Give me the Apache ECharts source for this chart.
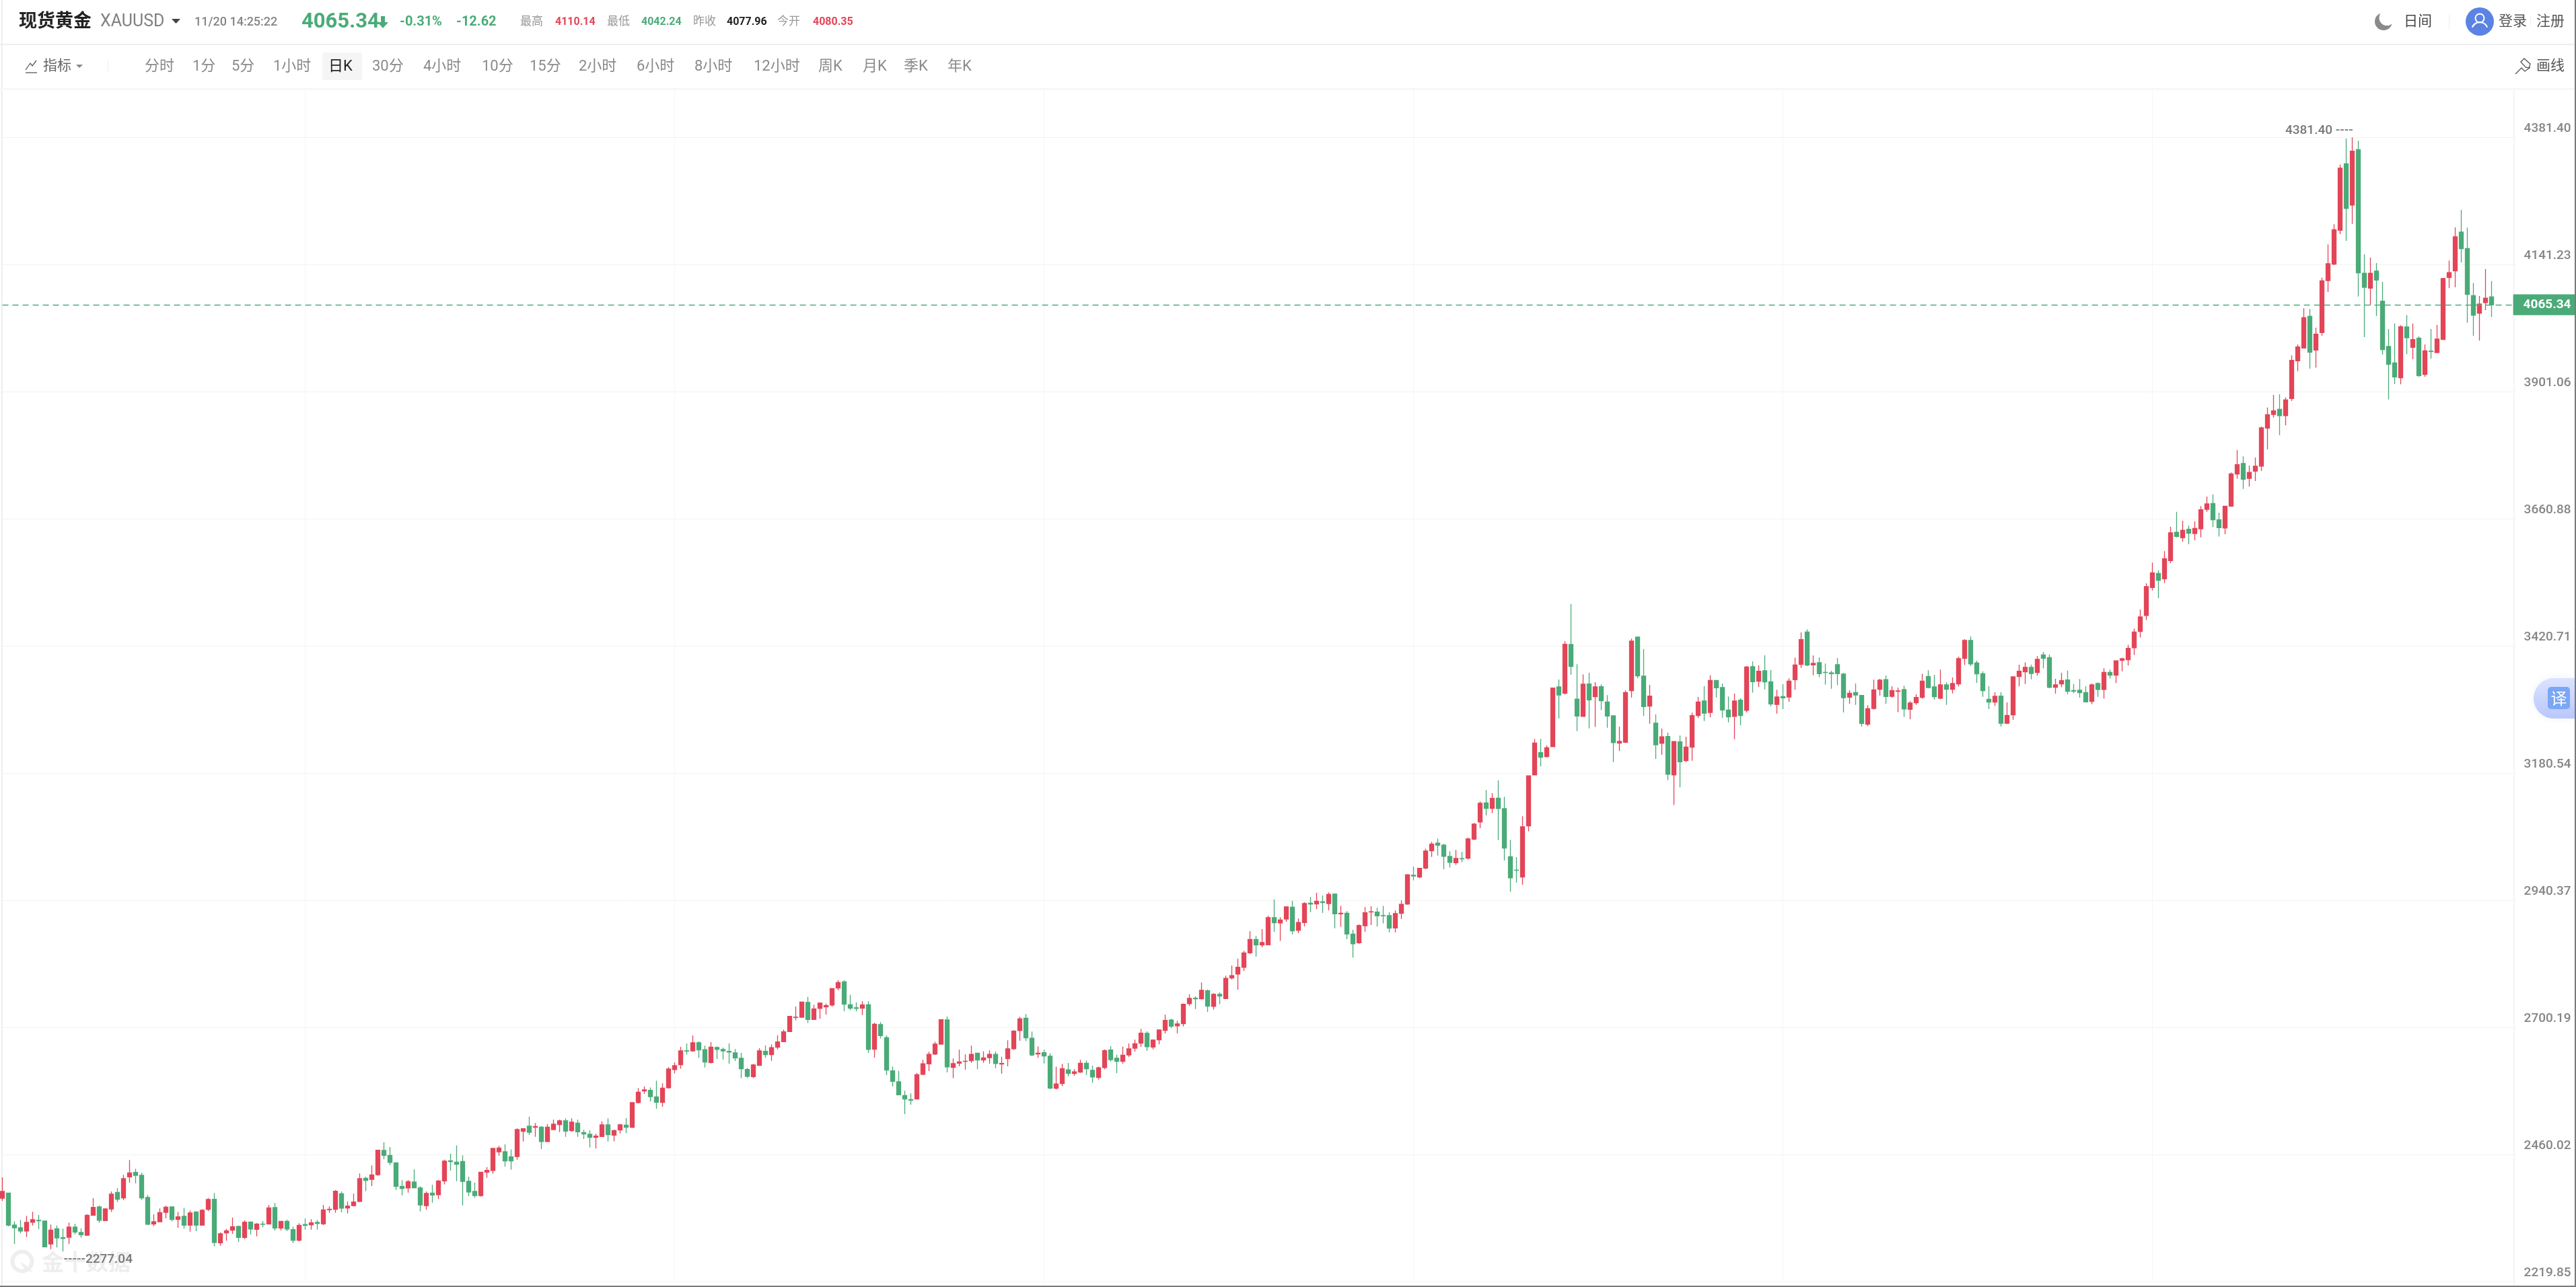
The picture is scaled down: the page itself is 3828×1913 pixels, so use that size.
<!DOCTYPE html>
<html lang="zh">
<head>
<meta charset="utf-8">
<title>现货黄金 XAUUSD</title>
<style>html,body{margin:0;padding:0;background:#fff}#c{width:3828px;height:1913px}</style>
<script src="https://cdn.jsdelivr.net/npm/echarts@6/dist/echarts.min.js"></script>
</head>
<body>
<div id="c"></div>
<script>
const priceTicks=[2219.85,2460.02,2700.19,2940.37,3180.54,3420.71,3660.88,3901.06,4141.23,4381.40];
const lastPrice=4065.34;
const periodLabels=['分时','1分','5分','1小时','日K','30分','4小时','10分','15分','2小时','6小时','8小时','12小时','周K','月K','季K','年K'];
const quoteStats=[['最高','4110.14','#e34558'],['最低','4042.24','#4aab78'],['昨收','4077.96','#222222'],['今开','4080.35','#e34558']];

// R = close above open, G = close below open; ten days per entry
const dayColours=[
'RGGGRRGGRG','GRGGRRGRRG','RRGGGRRRGR','GRGRRGRRRG','RGRGRGRGGR','GRGRRRGRRR','GRRGGGGRGG','RGRRGGGGGR',
'RRRGGRRGRG','RRRGRGGGRR','GRRGRRRGGR','RRRGRGGRGG','GGGGRRGRRR','RRRGRRRRRG','GGRGRGGGGG',
'GRRRRRGRRR','RGRRGRRRRG','GRGGRRGRRG','GRRGGRRRRG','RRRGRRRGRG','RGRRRRRGRR','GRRGRRGRGR','GRGGRRRGGG','RRRGRRRGGG',
'RGRRRGRGGG','GRRRGRRGRG','GRGRGGGRRR','GGRGRGRGRR','RGRGGGRGRG','RGGRGRRRGR','GGGGGRGGRR','RGRRGRRRGG','RGRRRGGGGR',
'GRRRRGRGGR','RGGGGRGRGR','RRRRRRGRRG','RGRRRGGRRR','GRRRRRGRRR','RGRRRRRGRG','GRGGGGRGRG','RGRRRRGGGR','RG'
].join('');

const highs=[
2417.2,2387.5,2334.2,2336.8,2344.4,2352,2346.1,2335.5,2327.9,2326.1,
2320.2,2331.7,2329.5,2320.6,2347.3,2377.8,2363.8,2359.2,2390.5,2396.9,
2421.9,2449.8,2433.3,2425.7,2383.8,2347.3,2358.3,2363.8,2362.6,2351.6,
2359.6,2354.5,2352.4,2357,2378.2,2387.5,2313.4,2319.8,2341.4,2326.1,
2336.3,2333.3,2330.8,2334.6,2365.1,2368.5,2334.6,2337.2,2324,2330.4,
2339.3,2338,2336.8,2365.1,2362.6,2393.1,2390.5,2371.5,2386.3,2424.4,
2418.1,2439.7,2469.3,2483.3,2474.4,2445.2,2411.7,2412.1,2432,2400.3,
2390.5,2403.2,2412.5,2450.7,2462.1,2477.4,2458.7,2418.5,2407,2427.8,
2436.7,2472.7,2476.6,2479.5,2469.8,2509.5,2509.9,2531.6,2519.7,2514.2,
2518,2526.1,2526.1,2528.6,2528.6,2526.1,2507,2505.7,2499.4,2523.1,
2528.6,2507,2518.4,2529,2559.6,2585.8,2589.2,2586.7,2599.8,2594.7,
2625.2,2634.1,2663.8,2670.1,2685,2673.9,2665.9,2672.7,2664.2,2662.1,
2670.1,2659.5,2652.3,2624,2631.6,2661.2,2666.3,2668.4,2685.4,2696.4,
2722.2,2740,2748.9,2758.2,2743,2747.6,2745.5,2774.3,2789.6,2789.6,
2762,2747.6,2749.8,2749.8,2709.1,2710.4,2685.4,2626.5,2618.4,2580.7,
2575.7,2614.6,2639.2,2654.4,2673.1,2715.9,2720.9,2641.7,2658.2,2649.4,
2665.9,2652.3,2655.2,2656.9,2654.8,2645.1,2676.1,2695.1,2720.5,2725.7,
2692.6,2664.3,2658.2,2651.5,2626.1,2631.6,2633.2,2621.4,2639.2,2637.9,
2628.2,2626.5,2659.1,2665,2648.9,2663.9,2670.1,2677.4,2697.7,2693,
2677.8,2696.8,2724.3,2716.7,2712.9,2745.5,2762.8,2759,2785.3,2772.2,
2765,2766.7,2798.1,2817.1,2830.2,2845,2882.3,2873,2886.1,2911.1,
2942,2908.6,2929.3,2939.5,2906,2936.9,2946.7,2954.8,2949.7,2955.7,
2953.5,2929.8,2920,2884.9,2895,2927.6,2929.3,2926.4,2929.8,2917.9,
2921.3,2940.4,2989.5,3004.4,3001.8,3037.8,3050.9,3056.9,3047.1,3033.1,
3035.7,3031.9,3059,3086.5,3127.1,3148.8,3142.8,3167,3136,3054.7,
3022,3099.2,3175.5,3245.3,3245.3,3233,3341.9,3357.6,3430,3499.9,
3386.4,3367,3370.3,3352.5,3348.3,3327.9,3289.9,3268.6,3336.8,3434.7,
3437.6,3414.9,3347.4,3291.9,3264.8,3257.2,3240.3,3251.7,3249.6,3294.9,
3324.5,3344.9,3365.6,3355.9,3349.9,3325.4,3330.9,3322.4,3383,3391.5,
3384.3,3403.3,3375.4,3338.1,3348.7,3359.7,3398.7,3446.5,3452.1,3402.9,
3399.5,3387.7,3374.1,3397.9,3369.9,3337.2,3349.9,3327.9,3308.9,3357.2,
3358.8,3364.8,3344.8,3342.3,3345.7,3316.5,3329.6,3368.2,3374.9,3366.5,
3376.2,3352.1,3361.4,3400.8,3433.8,3438.9,3393.2,3373.2,3344.9,3333.4,
3333.4,3314.4,3363.5,3385.5,3390.1,3385.5,3401.7,3409.7,3405,3358.9,
3370.3,3374.5,3348.7,3358.4,3344.9,3350,3352.1,3378.7,3376.2,3392.8,
3398.7,3422.9,3453.7,3489.8,3539.3,3578.3,3563.8,3599.9,3646,3674.4,
3657.5,3648.2,3656.2,3685,3703.3,3707,3672.8,3685.7,3748.6,3790.9,
3779,3761.7,3776.9,3835.3,3871.3,3895.1,3896.4,3890.2,3969.6,3990.4,
4058.6,4057.3,4022.2,4116.6,4179.4,4217.4,4330.1,4379.3,4381.40,4375,
4160.7,4154.3,4144.2,4108.6,4019.7,4029.8,4026.8,4045.9,4029.8,4005.7,
3990.4,4019.7,4027.2,4115.8,4148.9,4211.5,4244.6,4211.1,4106.5,4081.9,
4132.7,4110.14
];
const lows=[
2372.7,2324.9,2291.4,2311.3,2304.5,2326.1,2319.8,2285.1,2281.6,2284.6,
2277.04,2291.4,2309.6,2303.2,2306.6,2344.8,2331.7,2334.6,2351.6,2370.6,
2373.9,2407.5,2405.8,2374.4,2327.4,2324.9,2332.5,2339.7,2334.2,2321.9,
2320.6,2314.7,2315.6,2326.1,2353.3,2286.8,2288,2297.3,2310.5,2295.2,
2300.7,2309.2,2305.8,2323.2,2327.9,2316.8,2316.8,2315.6,2293.1,2296.5,
2318.5,2318.5,2318.5,2327,2350.3,2350.3,2350.7,2349,2362.2,2370.6,
2391,2400.7,2420.2,2451.5,2440.5,2393.5,2383.3,2388.4,2396.5,2352.8,
2355.8,2369.3,2376.1,2403.7,2429.9,2410,2364.3,2382,2378.6,2380.8,
2416.4,2424,2458.2,2437.5,2431.6,2450.7,2484.9,2497.3,2493.6,2470.6,
2483.8,2506.6,2502.8,2493.6,2503.2,2493.6,2489.6,2473.6,2471.9,2493.6,
2484.9,2485.3,2500.2,2500.7,2510.4,2556.6,2574.8,2560.8,2546.9,2550.7,
2584.6,2613.4,2622.3,2649,2654.4,2642.6,2624.8,2632.4,2640.9,2639.6,
2631.6,2637.1,2604.5,2604.9,2604.5,2627.8,2642.6,2637.5,2658.7,2672.7,
2691.7,2713.7,2718.4,2708.7,2715,2716.7,2724.3,2739.6,2770.9,2731.1,
2732.8,2730.3,2723.9,2652.3,2643,2679.9,2610.4,2589.2,2572.7,2536.7,
2554.5,2564.2,2610,2618,2648.5,2668,2615.5,2604.5,2626.9,2620.6,
2633.2,2621.4,2633.2,2632,2623.1,2612.9,2626.9,2657.8,2675.2,2674.8,
2645.9,2642.9,2632.4,2583.8,2582.9,2589.3,2607.9,2609.1,2614.6,2610.8,
2595.6,2601.9,2621.4,2636.2,2614.2,2632,2644.7,2654.9,2663.8,2656.2,
2659.1,2668.5,2689.2,2698.9,2689.2,2702.3,2741.3,2735.3,2753.1,2729.8,
2734,2744.2,2754.4,2790.9,2771.7,2806.9,2839.1,2834,2851.8,2855.6,
2881.1,2863.7,2900,2876.4,2878.6,2891.3,2917.9,2923.8,2916.6,2921.5,
2887.8,2890.4,2867.1,2832.3,2858.2,2881.1,2893.8,2890.8,2896.8,2880.2,
2879.8,2905.2,2932.3,2978.1,2981.9,2999.3,3022.5,3025,2999.3,3002.3,
3007.3,3012.4,3017.5,3054.3,3076.8,3100.4,3105.1,3054.3,3015.8,2956.5,
2974.2,2970,3070.8,3176.3,3193.2,3210.1,3229.7,3283.9,3328.8,3366.5,
3260.1,3287.3,3265.2,3267.8,3299.6,3266.5,3201.7,3222.4,3237.7,3323.3,
3359.7,3288.6,3274.1,3207.6,3215.2,3167.4,3120.4,3153.9,3201.7,3204.2,
3285.2,3279.2,3286.4,3323.7,3285.2,3276.6,3244.9,3271.2,3295.3,3332.6,
3343.2,3338.9,3306.8,3293.2,3301.7,3315.2,3338.1,3379.6,3382.6,3365.6,
3361.8,3347.8,3340.2,3346.6,3295.3,3311.8,3309.7,3268.6,3269.5,3300.8,
3327.1,3311.4,3323.2,3295.8,3286.9,3282.6,3309.7,3321.2,3340.7,3319.4,
3319.9,3309.7,3331.3,3344.5,3384.7,3382.8,3351.2,3324.9,3301.7,3307.6,
3268.6,3273.2,3281.4,3344.5,3349.1,3358,3364.8,3378.5,3341.1,3330.9,
3342.8,3329.6,3331.7,3323.2,3314.8,3310.9,3324.9,3321.2,3359.3,3350.8,
3373.2,3383.8,3403.8,3436.8,3469.8,3525.7,3511.2,3539.7,3577.4,3626.1,
3618,3613,3620.7,3626.1,3674.4,3645.6,3627.5,3632,3683.8,3736.7,
3717.6,3721.9,3732.4,3751.5,3792.1,3852.3,3819.2,3837.5,3883.6,3940,
3982.8,3944.7,3946.4,4006.9,4089.5,4140.4,4198.8,4186.1,4218.3,4081,
4004.4,4065.4,4044.2,3971.3,3886.6,3915.4,3915,3971.8,3962.5,3928.6,
3929.4,3963.7,3974.2,3999.3,4096.7,4098.4,4145,4031.5,4006.5,3997.6,
4055.2,4042.24
];
const bodyTops=[
2390.5,2387.5,2327,2321.9,2332.1,2337.2,2335.9,2334.6,2317.7,2320.2,
2303.2,2323.2,2323.2,2313,2345.6,2360.4,2361.3,2357.5,2385.4,2388.8,
2414.7,2425.7,2426.5,2421,2379.1,2333.3,2350.7,2360.9,2361.3,2342.7,
2343.5,2349.9,2352,2354.9,2375.3,2375.7,2310.5,2316.4,2324,2324.4,
2332.5,2332.9,2329.1,2329.1,2359.6,2360,2334.2,2334.2,2318.5,2326.6,
2327.9,2331.2,2332.1,2355.8,2357,2391,2386.3,2363,2370.6,2414.7,
2415.5,2421.9,2468.5,2468,2458.7,2444.7,2400.3,2409.2,2408.3,2397.3,
2386.7,2387.5,2410.4,2447.7,2448.6,2446,2447.3,2409.6,2390.5,2427,
2430.4,2471.9,2472.7,2465.5,2456.2,2507.4,2509.1,2513.8,2513.4,2512.1,
2512.1,2517.6,2524,2524,2521.4,2519.7,2501.9,2498.5,2495.1,2516.3,
2516.3,2505.7,2516.3,2515.9,2558.3,2578.2,2582.5,2581.6,2569.3,2585.8,
2621.8,2628.2,2656.1,2656.1,2671.4,2671.4,2658.3,2663.3,2662.5,2658.7,
2655.3,2652.3,2642.2,2621,2629.5,2656.1,2655.3,2662.1,2673,2692.2,
2721.3,2719.6,2748.5,2747.6,2735.3,2746.4,2741.7,2773.9,2785.3,2786.6,
2743.4,2737.5,2743,2743.4,2706.5,2705.7,2681.1,2618.4,2597.7,2571.8,
2564.2,2611.2,2631.6,2649.4,2668.8,2715,2714.6,2632,2635.4,2636.6,
2649.4,2651.9,2642.9,2649.4,2649.4,2632.4,2660,2693.4,2716.7,2718,
2679.9,2651.9,2652.7,2645.9,2593.5,2622.7,2620.2,2616.4,2632.8,2632.8,
2619.3,2624,2656.6,2657.8,2642.1,2648.1,2660,2669.7,2689.6,2689.2,
2676.5,2695.6,2713.7,2714.2,2707,2744.2,2755.2,2755.7,2770.5,2769.7,
2762.9,2762.9,2793,2798.1,2814.1,2841.2,2866.6,2866.6,2860.7,2907.8,
2907.8,2903.5,2928,2927.6,2898.5,2934.4,2935.3,2938.7,2937.8,2951.8,
2952.2,2916.2,2916.2,2876.8,2892.9,2917,2919.1,2918.3,2911.5,2911.5,
2915.3,2932.8,2988.7,2987.9,3001,3033.5,3046.7,3048.4,3044.6,3023.4,
3019.6,3019.2,3056.4,3084.4,3123.7,3124.6,3133.1,3133.5,3113.6,3022.9,
2997.5,3079.3,3175.5,3237.7,3219.5,3228.8,3341.5,3343.6,3424.1,3423.7,
3320.4,3348.7,3349.1,3343.6,3344,3315.2,3289,3240.7,3333,3430,
3437.6,3363.9,3326.2,3275,3249.2,3250,3240.3,3239.8,3230,3289.4,
3315.2,3316.9,3355.9,3355.9,3342.3,3300,3316.9,3318.6,3381.3,3381.8,
3373.3,3374.1,3353.3,3324.5,3325.4,3354.6,3385.1,3433,3447.4,3388.1,
3389.4,3371.1,3369.9,3385.5,3367.8,3331.7,3333,3327.5,3302.5,3338.1,
3356.3,3357.2,3336.8,3336,3338.6,3313.1,3323.7,3354.6,3363.5,3343.6,
3347.4,3347.4,3350,3397,3431.3,3431.3,3388.9,3368.6,3320.3,3325.8,
3326.2,3289.8,3362.7,3373.2,3380.5,3380.5,3395.7,3404.2,3399.1,3347.4,
3355.5,3356.7,3336.8,3337.2,3333,3347.4,3350,3371.1,3371.1,3392.8,
3396.6,3416.5,3447.4,3475.8,3532.9,3559.2,3557.9,3585.9,3634.6,3635.5,
3639.3,3641.4,3643.1,3678.2,3689.2,3690.1,3659.2,3684.8,3746,3763.4,
3765.5,3748.6,3760.4,3832.8,3857.8,3865,3867.9,3885.7,3960.3,3985.7,
4040.9,4043.6,4010,4110.7,4142.9,4207.3,4323.3,4331.8,4355.5,4358.5,
4125,4125,4128.9,4072.2,3986.6,3955.7,4023.9,4023.4,3999.7,4002.3,
3978.5,3977.7,4000.6,4115,4126,4193.8,4202.6,4171.7,4082.7,4066.6,
4077.96,4080.35
];
const bodyBottoms=[
2377.8,2327,2321.9,2315.6,2315.6,2332.1,2335,2286,2291.4,2302.8,
2301.6,2304.1,2313.9,2308.8,2307.9,2345.6,2335.9,2335.5,2357.5,2375.7,
2378.2,2418.1,2421,2378.2,2328.3,2329.1,2333.3,2351.1,2337.6,2337.6,
2327,2327,2327,2327,2356.6,2294,2293.5,2312.2,2317.3,2303.7,
2303.7,2319.4,2318.9,2328.3,2329.1,2321.5,2321.5,2319.4,2298.2,2298.2,
2326.6,2327.4,2330,2329.5,2356.2,2356.6,2358.8,2359.2,2363.8,2371.5,
2411.3,2413.4,2422.3,2458.7,2445.2,2400.3,2396,2396.9,2397.3,2365.1,
2363.8,2383.8,2384.2,2410.4,2446.9,2441.8,2409.6,2389.3,2382.9,2382.9,
2427,2430,2465.5,2448.1,2448.1,2456.6,2504,2502.3,2511.7,2484.6,
2484.6,2507.4,2516.7,2504.5,2505.3,2503.2,2499,2492.6,2492.6,2494.3,
2497.7,2496.8,2506.6,2511.7,2511.7,2558.3,2580.3,2569.7,2559.1,2558.7,
2586.3,2620.6,2629.9,2655.7,2656.1,2657.8,2635,2634.1,2658.7,2656.1,
2653.6,2642.6,2622.3,2607.9,2607.4,2628.6,2649,2649,2662.9,2673.5,
2692.6,2719.2,2719.6,2715.4,2715.4,2736.2,2739.2,2742.6,2774.7,2744.2,
2736.6,2736.2,2736.6,2658.7,2659.1,2684.9,2619.7,2598.5,2573.1,2565.1,
2563,2565.1,2611.7,2631.6,2649.8,2668.8,2625.7,2624.8,2632.8,2636.2,
2637.5,2638.8,2638.8,2643.4,2632,2631.1,2641.3,2660,2694.3,2680.7,
2648.5,2650.2,2646.4,2585.9,2585.4,2594.3,2613.4,2613.4,2615.9,2622.3,
2606.6,2605.8,2624.4,2639.6,2636.2,2636.2,2648.5,2661.2,2670.6,2663.8,
2663.3,2676.9,2694.7,2702.7,2703.2,2707.4,2745.1,2754.4,2754.4,2740.4,
2740,2759.5,2754.9,2793.8,2801,2813.7,2841.2,2856.1,2856.1,2856.5,
2898,2897.6,2905.1,2882.8,2883.6,2898.5,2933.2,2933.6,2936.1,2934.4,
2914.9,2914.9,2876.8,2858.2,2860.3,2892.4,2918.3,2911.1,2911.1,2887.8,
2888.3,2915.8,2933.2,2986.2,2984.4,3001.4,3034,3044.6,3023.4,3012,
3011.6,3018.8,3020,3056,3088.2,3114,3114,3113.6,3039,2982.8,
2997.1,2984.4,3080.9,3177.2,3210.6,3211.8,3230.5,3328.3,3331.7,3382.1,
3288.6,3287.7,3319.1,3325,3317.3,3288.6,3238.2,3237.3,3238.9,3336.4,
3364.4,3306.4,3307.2,3234.3,3236.9,3178.4,3177.2,3202.1,3204.2,3229.7,
3289.4,3294,3295.3,3341.9,3300,3286.9,3287.7,3289.4,3299.2,3353.3,
3354.2,3353,3311.4,3310.5,3322.8,3324.5,3357.1,3386,3384.7,3385.1,
3368.6,3370.7,3368.6,3368.6,3323.2,3324.1,3328.3,3274.6,3272.9,3302.9,
3339,3325.4,3325.8,3335.1,3301.7,3301.3,3313.5,3323.7,3342.3,3324.9,
3322,3339,3339,3349.1,3397.4,3386.8,3368.2,3336.4,3314.8,3314.8,
3274.9,3274.9,3290.7,3363.1,3372,3369,3370.7,3397.4,3342.8,3342.8,
3349.1,3335.1,3335.5,3332.6,3315.2,3316,3338.6,3338.6,3365.6,3365.6,
3393.6,3394.9,3417.4,3448.2,3478.3,3531.2,3544.8,3547.7,3582.1,3627.8,
3625.3,3633.8,3633.3,3642.2,3679,3659.2,3644.4,3643.5,3685,3745.6,
3735.9,3737.5,3751.1,3760.4,3832.4,3858.2,3855.7,3855.7,3888.3,3959.4,
3983.6,3975.6,3979.8,4012.9,4111.1,4142,4206,4247.1,4253.5,4125.5,
4098.4,4096.7,4112,3980.7,3952.7,3929,3927.3,4003,3984.9,3931.5,
3933.6,3976.8,3975,3999.7,4116.6,4129.4,4171.3,4084.8,4045.5,4049.3,
4069.2,4065.34
];

const candleData=bodyTops.map((top,i)=>{
  const up=dayColours[i]==='R';
  return [up?bodyBottoms[i]:top, up?top:bodyBottoms[i], lows[i], highs[i]];
});

const RED='#e34558',GREEN='#4aab78',BLANK_SLOTS=4;
const FONT='Roboto,"Noto Sans CJK SC",sans-serif';
const cjk='"Noto Sans CJK SC",sans-serif';
const categories=Array.from({length:candleData.length+BLANK_SLOTS},(_,i)=>String(i));

function T(text,x,y,size,fill,weight,align,family){
  return {type:'text',x,y,silent:true,z:5,style:{text,fill,textAlign:align||'left',textVerticalAlign:'middle',
    font:(weight||'normal')+' '+size+'px '+(family||FONT)}};
}
function R(x,y,w,h,fill,r,z){return {type:'rect',silent:true,z:z==null?4:z,shape:{x,y,width:w,height:h,r:r||0},style:{fill}};}
function L(pts,stroke,lw,z){return {type:'polyline',silent:true,z:z==null?4:z,shape:{points:pts},style:{stroke,lineWidth:lw||1,fill:'none'}};}
function P(pts,fill){return {type:'polygon',silent:true,z:5,shape:{points:pts},style:{fill}};}

const periodX=[215,286,344,406,488,553,629,716,787,860,946,1032,1120,1216,1282,1343,1408];
const statX=[[773,825],[902,953],[1030,1080],[1155,1208]];

const graphics=[
  // frame and separators
  R(0,65,3828,2,'#eeeeee'),
  R(0,131,3828,3,'#f7f7f7'),
  R(2,0,1.5,1911,'#e8e8e8',0,1),
  R(3735,134,1.5,1777,'#f2f2f2',0,1),
  R(0,1911,3828,2,'#7a7a7a',0,9),
  R(3826,0,2,1913,'#7a7a7a',0,9),
  // quote header
  T('现货黄金',28,33,27,'#222222','bold'),
  T('XAUUSD',149,33,25,'#808080'),
  P([[255,28],[268,28],[261.5,35]],'#444444'),
  T('11/20 14:25:22',289,33,18,'#858585','500'),
  T('4065.34',448,33,31,GREEN,'bold'),
  P([[566,24],[572,24],[572,33],[577,33],[569,42],[561,33],[566,33]],GREEN),
  T('-0.31%',594,33,20,GREEN,'bold'),
  T('-12.62',678,33,20,GREEN,'bold'),
  // account area
  {type:'circle',silent:true,z:5,shape:{cx:3542,cy:32,r:13},style:{fill:'#8a8a8a'}},
  {type:'circle',silent:true,z:6,shape:{cx:3547,cy:26.5,r:11.5},style:{fill:'#ffffff'}},
  T('日间',3572,33,21,'#444444'),
  R(3639,22,1,21,'#eeeeee'),
  {type:'circle',silent:true,z:5,shape:{cx:3685,cy:32,r:21},style:{fill:'#5b83e3'}},
  {type:'circle',silent:true,z:6,shape:{cx:3685,cy:27,r:6.5},style:{fill:'none',stroke:'#ffffff',lineWidth:2}},
  {type:'arc',silent:true,z:6,shape:{cx:3685,cy:45,r:12,startAngle:Math.PI*1.12,endAngle:Math.PI*1.88},style:{fill:'none',stroke:'#ffffff',lineWidth:2}},
  T('登录',3713,33,21,'#555555'),
  R(3760,24,1,14,'#eeeeee'),
  T('注册',3769,33,21,'#555555'),
  // toolbar
  L([[38,104],[45,94],[48,98],[54,90]],'#555555',1.3),
  L([[38,108],[55,108]],'#555555',1.3),
  T('指标',64,99,21,'#666666'),
  P([[113,96],[123,96],[118,101]],'#888888'),
  R(160,89,1,19,'#eeeeee'),
  R(479,78,59,41,'#f5f5f5',3),
  // drawing tool
  L([[3738,110],[3747,101],[3752,106],[3760,100]],'#555555',1.3),
  {type:'polygon',silent:true,z:5,shape:{points:[[3746,92],[3751,87],[3760,95],[3758,101],[3753,100]]},style:{fill:'none',stroke:'#555555',lineWidth:1.3}},
  T('画线',3769,99,21,'#555555'),
  // watermark
  {type:'circle',silent:true,z:0,shape:{cx:33,cy:1875,r:14.5},style:{fill:'none',stroke:'#eeeeee',lineWidth:6}},
  {type:'polygon',silent:true,z:0,shape:{points:[[30,1876],[38,1880],[50,1892],[36,1886]]},style:{fill:'#eeeeee'}},
  {type:'text',x:62,y:1875,silent:true,z:0,style:{text:'金十数据',fill:'#eeeeee',textVerticalAlign:'middle',font:'bold 33px '+cjk}},
  // translate tab
  {type:'rect',silent:true,z:7,shape:{x:3765,y:1008,width:62,height:60,r:[30,0,0,30]},
    style:{fill:new echarts.graphic.LinearGradient(0,0,0,1,[{offset:0,color:'#dbe3ff'},{offset:1,color:'#b9c7fb'}]),shadowBlur:10,shadowColor:'rgba(120,140,220,0.12)'}},
  R(3786,1021,33,33,'#7ba7f5',5,8),
  {type:'text',x:3802.5,y:1038,silent:true,z:9,style:{text:'译',fill:'#ffffff',textAlign:'center',textVerticalAlign:'middle',font:'24px '+cjk}}
];
periodLabels.forEach((t,i)=>graphics.push(T(t,periodX[i],99,22,t==='日K'?'#222222':'#8a8a8a')));
quoteStats.forEach((s,i)=>{
  graphics.push(T(s[0],statX[i][0],33,17,'#999999'));
  graphics.push(T(s[1],statX[i][1],33,16,s[2],'bold'));
});

const chart=echarts.init(document.getElementById('c'),null,{renderer:'canvas'});
chart.setOption({
  animation:false,
  backgroundColor:'#ffffff',
  graphic:{elements:graphics},
  grid:{left:3.6,width:(categories.length-1)*9,top:134,height:1771.3,containLabel:false},
  xAxis:{type:'category',data:categories,boundaryGap:false,
    axisLine:{show:false},axisTick:{show:false},axisLabel:{show:false},
    splitLine:{show:true,interval:(i)=>i>=50&&(i-50)%61===0&&i<candleData.length,lineStyle:{color:'#f5f5f5',width:1}}},
  yAxis:{type:'value',position:'right',min:2219.85,max:4470.7,scale:true,
    axisLine:{show:false},axisTick:{show:false,customValues:priceTicks},
    axisLabel:{customValues:priceTicks,margin:12,fontSize:19,fontWeight:500,color:'#858585',fontFamily:FONT,
      verticalAlign:'bottom',padding:[0,0,4,0],formatter:(v)=>v.toFixed(2)},
    splitLine:{show:true,lineStyle:{color:'#f2f2f2',width:1}}},
  series:[{
    type:'candlestick',name:'XAUUSD',data:candleData,barWidth:6,clip:true,
    itemStyle:{color:RED,color0:GREEN,borderColor:RED,borderColor0:GREEN,borderWidth:1.3},
    markLine:{silent:true,symbol:'none',animation:false,
      lineStyle:{color:GREEN,type:[9,6],width:1.3},
      label:{show:true,position:'end',distance:-4,formatter:()=>lastPrice.toFixed(2),color:'#ffffff',
        backgroundColor:GREEN,fontWeight:'bold',fontSize:19,fontFamily:FONT,
        padding:[6,9,6,15],borderRadius:1},
      data:[[{xAxis:'0',yAxis:lastPrice},{xAxis:String(categories.length-1),yAxis:lastPrice}]]},
    markPoint:{silent:true,symbol:'circle',symbolSize:0,animation:false,
      data:[
        {coord:[String(highs.indexOf(Math.max(...highs))),Math.max(...highs)],value:Math.max(...highs),
          label:{show:true,position:'inside',align:'right',offset:[1,-10],color:'#777777',fontSize:19,fontWeight:500,fontFamily:FONT,
            formatter:(p)=>p.value.toFixed(2)+' ----'}},
        {coord:[String(lows.indexOf(Math.min(...lows))),Math.min(...lows)],value:Math.min(...lows),
          label:{show:true,position:'inside',align:'left',offset:[1,12],color:'#777777',fontSize:19,fontWeight:500,fontFamily:FONT,
            formatter:(p)=>'-----'+p.value.toFixed(2)}}
      ]}
  }]
});
</script>
</body>
</html>
